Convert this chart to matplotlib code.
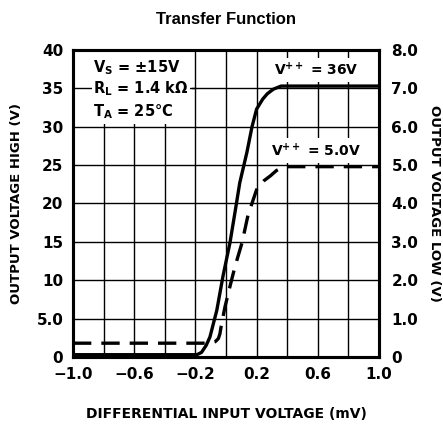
import numpy as np
import matplotlib
matplotlib.use("Agg")
from matplotlib import pyplot as plt
from matplotlib.patches import Rectangle

# Transfer function data
# V++ = 36V, output voltage high (left axis, V)
x_36 = [-1.0, -0.19, -0.16, -0.13, -0.105, -0.06, -0.02, 0.026, 0.06, 0.09,
        0.137, 0.17, 0.20, 0.24, 0.27, 0.31, 0.36, 1.0]
y_36 = [0.3, 0.3, 0.6, 1.5, 2.6, 6.1, 10.5, 14.9, 19.0, 22.7,
        26.7, 30.0, 32.3, 33.6, 34.3, 34.9, 35.3, 35.3]

# V++ = 5.0V, output voltage low (right axis, V)
x_5 = [-1.0, -0.11, -0.07, -0.05, -0.04, -0.03, -0.007, 0.026, 0.059, 0.105,
       0.144, 0.20, 0.25, 0.29, 0.33, 0.38, 1.0]
y_5 = [0.36, 0.36, 0.40, 0.48, 0.60, 0.84, 1.30, 1.84, 2.36, 2.98,
       3.70, 4.36, 4.60, 4.72, 4.86, 4.96, 4.96]

xticks = [-1.0, -0.6, -0.2, 0.2, 0.6, 1.0]
xticklabels = ['\u22121.0', '\u22120.6', '\u22120.2', '0.2', '0.6', '1.0']
yticks_left = [0, 5, 10, 15, 20, 25, 30, 35, 40]
yticklabels_left = ['0', '5.0', '10', '15', '20', '25', '30', '35', '40']
yticks_right = [0, 1, 2, 3, 4, 5, 6, 7, 8]
yticklabels_right = ['0', '1.0', '2.0', '3.0', '4.0', '5.0', '6.0', '7.0', '8.0']

plt.rcParams['font.family'] = ['DejaVu Sans Condensed', 'DejaVu Sans']
plt.rcParams['mathtext.default'] = 'regular'

fig = plt.figure(figsize=(4.43, 4.24), dpi=100)
ax = fig.add_axes([73/443, 1 - 357/424, (379-73)/443, (357-50)/424])

ax.set_xlim(-1.0, 1.0)
ax.set_ylim(0, 40)
ax.set_xticks(np.arange(-1.0, 1.01, 0.2), minor=True)
ax.set_xticks(xticks)
ax.set_xticklabels(xticklabels, fontweight='bold', fontsize=11)
ax.set_yticks(yticks_left)
ax.set_yticklabels(yticklabels_left, fontweight='bold', fontsize=11)
ax.grid(True, which='both', color='black', linewidth=1.0, zorder=1)
ax.set_axisbelow(True)
ax.tick_params(which='both', length=0, pad=7)
for s in ax.spines.values():
    s.set_linewidth(2.2)

# blank area behind the conditions box (vertical grid hidden)
ax.add_patch(Rectangle((-1.0, 30.4), 0.78, 9.6, facecolor='white',
                       edgecolor='none', zorder=1.5))
ax.axhline(35, xmin=0, xmax=0.4, color='black', linewidth=1.0, zorder=1.6)

ax.plot(x_36, y_36, color='black', linewidth=2.4, zorder=3,
        solid_capstyle='butt', solid_joinstyle='round')

ax.set_ylabel('OUTPUT VOLTAGE HIGH (V)', fontweight='bold', fontsize=9.5,
              labelpad=10)
ax.set_xlabel('DIFFERENTIAL INPUT VOLTAGE (mV)', fontweight='bold',
              fontsize=10, labelpad=18)

box = dict(facecolor='white', edgecolor='none', pad=0.8)
ax.text(-0.87, 37.7, 'V$_\\mathregular{S}$ = \u00b115V',
        fontsize=10.5, fontweight='bold', va='center', ha='left', zorder=4, bbox=box)
ax.text(-0.87, 34.9, 'R$_\\mathregular{L}$ = 1.4 k\u03a9',
        fontsize=10.5, fontweight='bold', va='center', ha='left', zorder=4, bbox=box)
ax.text(-0.87, 32.0, 'T$_\\mathregular{A}$ = 25\u00b0C',
        fontsize=10.5, fontweight='bold', va='center', ha='left', zorder=4, bbox=box)

ax.text(0.59, 37.4, 'V$^{++}$ = 36V', fontsize=10, fontweight='bold',
        ha='center', va='center', zorder=4,
        bbox=dict(facecolor='white', edgecolor='none', pad=2.5))
ax.text(0.59, 26.9, 'V$^{++}$ = 5.0V', fontsize=10, fontweight='bold',
        ha='center', va='center', zorder=4,
        bbox=dict(facecolor='white', edgecolor='none', pad=2.5))

ax2 = ax.twinx()
ax2.set_ylim(0, 8)
ax2.set_yticks(yticks_right)
ax2.set_yticklabels(yticklabels_right, fontweight='bold', fontsize=11)
ax2.tick_params(length=0, pad=9)
for s in ax2.spines.values():
    s.set_linewidth(2.2)
ax2.plot(x_5, y_5, color='black', linewidth=2.4, linestyle=(0, (5.5, 3)),
         zorder=3)
ax2.set_ylabel('OUTPUT VOLTAGE LOW (V)', fontweight='bold', fontsize=9.5,
               rotation=270, labelpad=16)

fig.text(226/443, 1 - 20/424, 'Transfer Function', ha='center', va='center',
         fontsize=12, fontweight='bold', family='Liberation Sans')

fig.savefig('out.png', dpi=100)
